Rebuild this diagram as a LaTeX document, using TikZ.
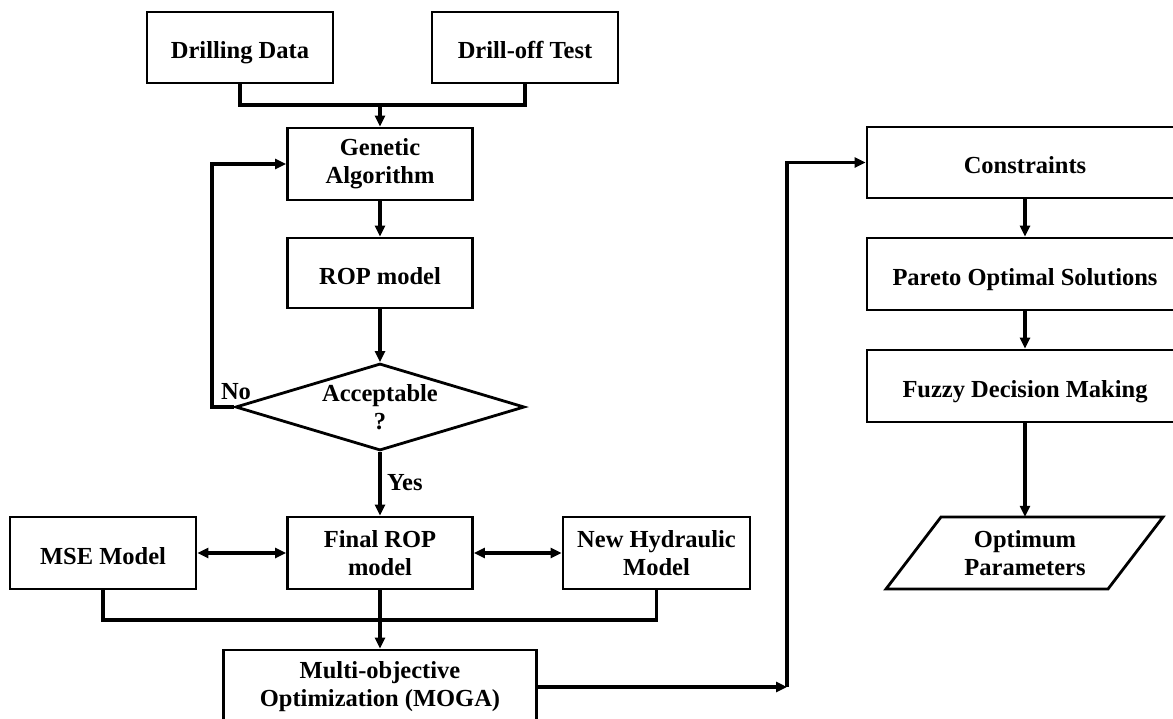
\documentclass[tikz,border=0pt]{standalone}
\usepackage{fontspec}
\setmainfont{Liberation Serif}
\usetikzlibrary{arrows.meta,shapes.geometric}
\begin{document}
\begin{tikzpicture}[x=1pt,y=-1pt,
  box/.style={draw,line width=2.8pt,rectangle,inner sep=0pt,align=center,
    font=\fontsize{24.5}{28}\selectfont\bfseries},
  one/.style={text height=24pt,text depth=2pt},
  lbl/.style={inner sep=0pt,font=\fontsize{24.5}{28}\selectfont\bfseries},
  conn/.style={line width=3.3pt},
  arr/.style={line width=3.3pt,-{Triangle[length=11pt,width=10pt]}},
  darr/.style={line width=3.3pt,{Triangle[length=11pt,width=10pt]}-{Triangle[length=11pt,width=10pt]}}]
\useasboundingbox (0,0) rectangle (1173,718);
\clip (0,0) rectangle (1173,718);
\fill[white] (0,0) rectangle (1173,718);
% left column
\node[box,one,minimum width=186pt,minimum height=71pt] (dd) at (240,47.5) {Drilling Data};
\node[box,one,minimum width=186pt,minimum height=71pt] (dot) at (525,47.5) {Drill-off Test};
\node[box,minimum width=185pt,minimum height=72pt] (ga) at (380,164) {Genetic\\Algorithm};
\node[box,one,minimum width=185pt,minimum height=70pt] (rop) at (380,273) {ROP model};
\node[draw,line width=2.8pt,shape=diamond,aspect=3.3,inner sep=0pt,
  minimum width=289pt,minimum height=87pt,align=center,
  font=\fontsize{24.5}{28}\selectfont\bfseries] (dia) at (380,407) {Acceptable\\?};
\node[box,minimum width=185pt,minimum height=72pt] (frop) at (380,553) {Final ROP\\model};
\node[box,one,minimum width=186pt,minimum height=72pt] (mse) at (103,553) {MSE Model};
\node[box,minimum width=187pt,minimum height=72pt] (nh) at (656.5,553) {New Hydraulic\\Model};
\node[box,minimum width=313pt,minimum height=74pt] (moga) at (380,687) {Multi-objective\\Optimization (MOGA)};
% right column
\node[box,one,minimum width=316pt,minimum height=71pt] (cons) at (1025,162.5) {Constraints};
\node[box,one,minimum width=316pt,minimum height=72pt] (par) at (1025,274) {Pareto Optimal Solutions};
\node[box,one,minimum width=316pt,minimum height=72pt] (fuz) at (1025,386) {Fuzzy Decision Making};
\draw[line width=2.8pt] (941,517) -- (1163,517) -- (1108,589) -- (886,589) -- cycle;
\node[lbl,align=center,minimum height=72pt] (opt) at (1025,553) {Optimum\\Parameters};
% labels
\node[lbl] (no) at (236,392) {No};
\node[lbl,anchor=west] (yes) at (387,483) {Yes};
% coordinates
\coordinate (j1) at (380,105);
\coordinate (lp) at (212,164);
\coordinate (j2) at (380,620);
\coordinate (c1) at (787,687);
\coordinate (c2) at (787,162.5);
% connectors
\draw[conn] (dd.south) |- (j1) -| (dot.south);
\draw[arr] (j1) -- (ga.north);
\draw[arr] (ga.south) -- (rop.north);
\draw[arr] (rop.south) -- (dia.north);
\draw[arr] (dia.west) -| (lp) -- (ga.west);
\draw[arr] (dia.south) -- (frop.north);
\draw[darr] (mse.east) -- (frop.west);
\draw[darr] (frop.east) -- (nh.west);
\draw[conn] (mse.south) |- (j2) -| (nh.south);
\draw[arr] (frop.south) -- (moga.north);
\draw[arr] (moga.east) -- (c1);
\draw[arr] (c1) -- (c2) -- (cons.west);
\draw[arr] (cons.south) -- (par.north);
\draw[arr] (par.south) -- (fuz.north);
\draw[arr] (fuz.south) -- (opt.north);
\end{tikzpicture}
\end{document}
